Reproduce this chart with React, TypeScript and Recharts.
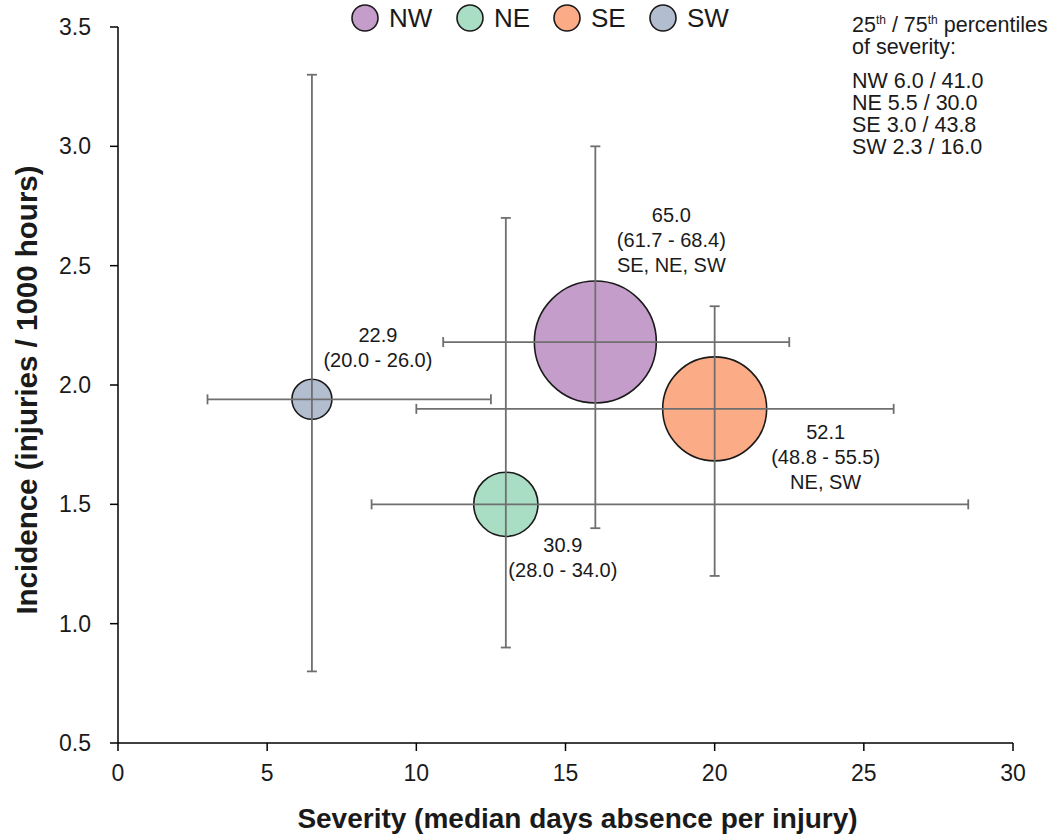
import { ScatterChart, Scatter, XAxis, YAxis, ZAxis, ErrorBar, Legend } from "recharts";

const FONT = "'Liberation Sans', Arial, sans-serif";

// one entry per region, same order everywhere
const REGIONS = ["NW", "NE", "SE", "SW"];
const COLORS = ["#C59DCA", "#A9DEC5", "#FBAB85", "#B3BDD0"];
const SEVERITY = [16.0, 13.0, 20.0, 6.5];
const SEVERITY_LOW = [10.9, 8.5, 10.0, 3.0];
const SEVERITY_HIGH = [22.5, 28.5, 26.0, 12.5];
const INCIDENCE = [2.18, 1.5, 1.9, 1.94];
const INCIDENCE_LOW = [1.4, 0.9, 1.2, 0.8];
const INCIDENCE_HIGH = [3.0, 2.7, 2.33, 3.3];
const RATE = [65.0, 30.9, 52.1, 22.9];
const RATE_CI = ["(61.7 - 68.4)", "(28.0 - 34.0)", "(48.8 - 55.5)", "(20.0 - 26.0)"];
const SIGNIFICANT = ["SE, NE, SW", "", "NE, SW", ""];

const X_TICKS = [0, 5, 10, 15, 20, 25, 30];
const Y_TICKS = [0.5, 1.0, 1.5, 2.0, 2.5, 3.0, 3.5];

const PERCENTILES = ["NW 6.0 / 41.0", "NE 5.5 / 30.0", "SE 3.0 / 43.8", "SW 2.3 / 16.0"];

// where each bubble's text block sits relative to its centre (px)
const LABEL_OFFSET: Record<string, [number, number]> = {
  NW: [76, -127],
  NE: [57, 41],
  SE: [111, 23],
  SW: [66, -64],
};

const rows = REGIONS.map((region, i) => ({
  region,
  color: COLORS[i],
  x: SEVERITY[i],
  y: INCIDENCE[i],
  errX: [SEVERITY[i] - SEVERITY_LOW[i], SEVERITY_HIGH[i] - SEVERITY[i]],
  errY: [INCIDENCE[i] - INCIDENCE_LOW[i], INCIDENCE_HIGH[i] - INCIDENCE[i]],
  rate: RATE[i],
  ci: RATE_CI[i],
  sig: SIGNIFICANT[i],
}));

function Bubble(props: any) {
  const { cx, cy, width, payload } = props;
  if (cx == null || cy == null) return <g />;
  const r = width / 2;
  const [dx, dy] = LABEL_OFFSET[payload.region];
  const lines = [payload.rate.toFixed(1), payload.ci, payload.sig].filter(Boolean);
  return (
    <g>
      <circle cx={cx} cy={cy} r={r} fill={payload.color} stroke="#1a1a1a" strokeWidth={1.6} />
      <text textAnchor="middle" fontSize={20} fontFamily={FONT} fill="#1a1a1a">
        {lines.map((l: string, i: number) => (
          <tspan key={i} x={cx + dx} y={cy + dy + i * 25 + 7}>
            {l}
          </tspan>
        ))}
      </text>
    </g>
  );
}

function LegendContent(props: any) {
  const items = (props.payload || [])
    .filter((p: any) => p.type !== "none")
    .sort((a: any, b: any) => REGIONS.indexOf(a.value) - REGIONS.indexOf(b.value));
  const starts = [352, 457, 554, 650];
  return (
    <svg width={1061} height={40}>
      {items.map((p: any, i: number) => (
        <g key={p.value}>
          <circle cx={starts[i] + 13} cy={18} r={13} fill={p.color} stroke="#1a1a1a" strokeWidth={1.6} />
          <text x={starts[i] + 37} y={27} fontSize={26} fontFamily={FONT} fill="#1a1a1a">
            {p.value}
          </text>
        </g>
      ))}
    </svg>
  );
}

export default function App() {
  const zValues = RATE;
  return (
    <div style={{ position: "absolute", left: 0, top: 0, width: 1061, height: 836, background: "#fff" }}>
      <ScatterChart width={1061} height={836} margin={{ top: 27, right: 48, bottom: 0, left: 0 }}>
        <XAxis
          type="number"
          dataKey="x"
          domain={[0, 30]}
          ticks={X_TICKS}
          height={93}
          tickSize={8}
          tickMargin={14}
          axisLine={{ stroke: "#000", strokeWidth: 1.5 }}
          tickLine={{ stroke: "#000", strokeWidth: 1.5 }}
          tick={{ fontSize: 23, fill: "#1a1a1a", fontFamily: FONT }}
          label={{
            content: ({ viewBox }: any) => (
              <text
                x={viewBox.x + viewBox.width / 2 + 12}
                y={828}
                textAnchor="middle"
                fontSize={28}
                fontWeight="bold"
                fontFamily={FONT}
                fill="#1a1a1a"
              >
                Severity (median days absence per injury)
              </text>
            ),
          }}
        />
        <YAxis
          type="number"
          dataKey="y"
          domain={[0.5, 3.5]}
          ticks={Y_TICKS}
          width={118}
          tickSize={8}
          tickMargin={19}
          tickFormatter={(v: number) => v.toFixed(1)}
          axisLine={{ stroke: "#000", strokeWidth: 1.5 }}
          tickLine={{ stroke: "#000", strokeWidth: 1.5 }}
          tick={{ fontSize: 23, fill: "#1a1a1a", fontFamily: FONT }}
          label={{
            content: ({ viewBox }: any) => {
              const cy = viewBox.y + viewBox.height / 2 + 5;
              return (
                <text
                  x={37}
                  y={cy}
                  transform={`rotate(-90 37 ${cy})`}
                  textAnchor="middle"
                  fontSize={29.5}
                  fontWeight="bold"
                  fontFamily={FONT}
                  fill="#1a1a1a"
                >
                  Incidence (injuries / 1000 hours)
                </text>
              );
            },
          }}
        />
        <ZAxis
          type="number"
          dataKey="rate"
          domain={[Math.min(...zValues), Math.max(...zValues)]}
          range={[1257, 11690]}
        />
        <Legend
          layout="horizontal"
          verticalAlign="middle"
          align="center"
          wrapperStyle={{ top: 0, left: 0, width: 1061, height: 40 }}
          content={LegendContent}
        />
        {rows.map((row) => (
          <Scatter
            key={row.region}
            name={row.region}
            data={[row]}
            fill={row.color}
            shape={Bubble}
            isAnimationActive={false}
          />
        ))}
        <Scatter
          name="ranges"
          data={rows}
          legendType="none"
          fill="none"
          shape={() => <g />}
          isAnimationActive={false}
          zIndex={1000}
        >
          <ErrorBar
            dataKey="errX"
            direction="x"
            width={5}
            stroke="#6f6f6f"
            strokeWidth={1.8}
            isAnimationActive={false}
            zIndex={1000}
          />
          <ErrorBar
            dataKey="errY"
            direction="y"
            width={5}
            stroke="#6f6f6f"
            strokeWidth={1.8}
            isAnimationActive={false}
            zIndex={1000}
          />
        </Scatter>
      </ScatterChart>
      <div
        style={{
          position: "absolute",
          left: 852,
          top: 15,
          fontFamily: FONT,
          fontSize: 21.5,
          lineHeight: "21.7px",
          color: "#1a1a1a",
          whiteSpace: "nowrap",
        }}
      >
        <div>
          25<sup style={{ fontSize: 12, lineHeight: 0 }}>th</sup> / 75
          <sup style={{ fontSize: 12, lineHeight: 0 }}>th</sup> percentiles
        </div>
        <div>of severity:</div>
        <div style={{ height: 13 }} />
        {PERCENTILES.map((p) => (
          <div key={p}>{p}</div>
        ))}
      </div>
    </div>
  );
}
